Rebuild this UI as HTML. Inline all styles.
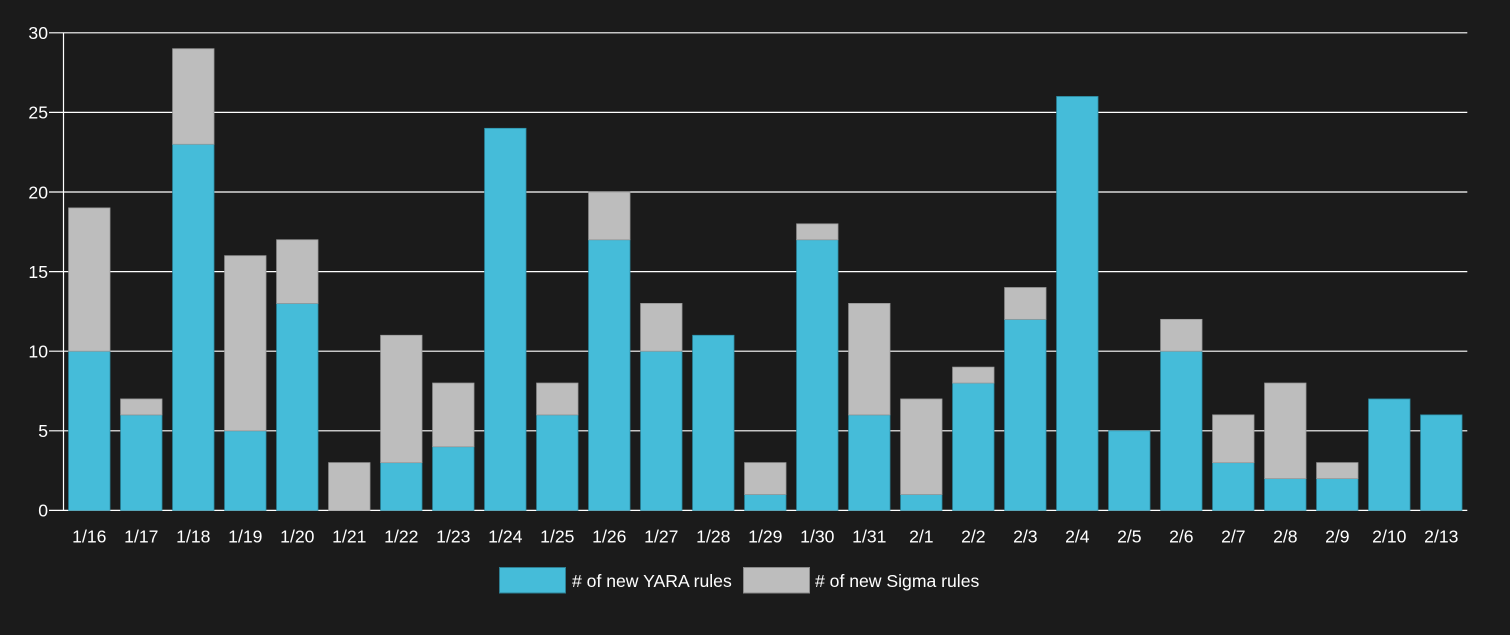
<!DOCTYPE html>
<html>
<head>
<meta charset="utf-8">
<style>
html,body{margin:0;padding:0;background:#1b1b1b;}
svg{display:block;font-family:"Liberation Sans",Arial,sans-serif;}
</style>
</head>
<body>
<svg width="1510" height="635" viewBox="0 0 1510 635" xmlns="http://www.w3.org/2000/svg">
<rect x="0" y="0" width="1510" height="635" fill="#1b1b1b"/>
<g id="grid" stroke="#ffffff" stroke-width="1.2"></g>
<g id="bars"></g>
<g id="labels" fill="#ffffff" font-size="17.6"></g>
<line x1="63.5" y1="32.7" x2="63.5" y2="510.5" stroke="#ffffff" stroke-width="1.2"/>
<!-- legend -->
<rect x="499.5" y="567.5" width="66" height="25.5" fill="#45bcd9" stroke="#2d7f93" stroke-width="1"/>
<text x="572" y="587" fill="#ffffff" font-size="17.6"># of new YARA rules</text>
<rect x="743.5" y="567.5" width="66" height="25.5" fill="#bdbdbd" stroke="#8a8a8a" stroke-width="1"/>
<text x="815" y="587" fill="#ffffff" font-size="17.6"># of new Sigma rules</text>
<script>
(function(){
var ns="http://www.w3.org/2000/svg";
var y0=510.4, unit=15.92, x0=63.3, band=52, pad=5.3, bw=41.4;
var grid=document.getElementById("grid"), bars=document.getElementById("bars"), labels=document.getElementById("labels");
function el(t,a,p,txt){var e=document.createElementNS(ns,t);for(var k in a)e.setAttribute(k,a[k]);if(txt!==undefined)e.textContent=txt;p.appendChild(e);return e;}
for(var v=0;v<=30;v+=5){
  var y=y0-v*unit;
  el("line",{x1:49,y1:y,x2:1467.3,y2:y},grid);
  el("text",{x:48,y:y+6.3,"text-anchor":"end"},labels,String(v));
}
var data=[["1/16",10,9],["1/17",6,1],["1/18",23,6],["1/19",5,11],["1/20",13,4],["1/21",0,3],["1/22",3,8],["1/23",4,4],["1/24",24,0],["1/25",6,2],["1/26",17,3],["1/27",10,3],["1/28",11,0],["1/29",1,2],["1/30",17,1],["1/31",6,7],["2/1",1,6],["2/2",8,1],["2/3",12,2],["2/4",26,0],["2/5",5,0],["2/6",10,2],["2/7",3,3],["2/8",2,6],["2/9",2,1],["2/10",7,0],["2/13",6,0]];
data.forEach(function(d,i){
  var x=x0+i*band+pad;
  var yy=d[1], sg=d[2];
  if(yy>0) el("rect",{x:x,y:y0-yy*unit,width:bw,height:yy*unit,fill:"#45bcd9",stroke:"#2d8fa7","stroke-width":0.8},bars);
  if(sg>0) el("rect",{x:x,y:y0-(yy+sg)*unit,width:bw,height:sg*unit,fill:"#bdbdbd",stroke:"#9a9a9a","stroke-width":0.8},bars);
  el("text",{x:x+bw/2,y:542.5,"text-anchor":"middle"},labels,d[0]);
});
})();
</script>
</svg>
</body>
</html>
